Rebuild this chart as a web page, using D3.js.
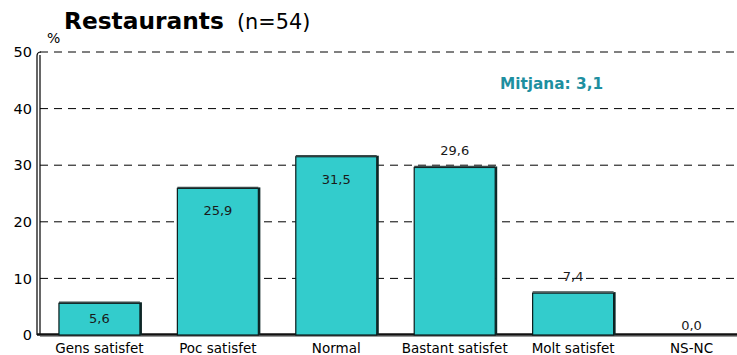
<!DOCTYPE html>
<html>
<head>
<meta charset="utf-8">
<script src="https://cdn.jsdelivr.net/npm/d3@7/dist/d3.min.js"></script>
<style>
  html, body { margin: 0; padding: 0; background: #fff; }
  svg { display: block; font-family: Verdana, "DejaVu Sans", sans-serif; }
</style>
</head>
<body>
<svg id="chart" width="737" height="355"></svg>
<script>
// Satisfaction with restaurants (%)
const categories = ["Gens satisfet", "Poc satisfet", "Normal", "Bastant satisfet", "Molt satisfet", "NS-NC"];
const values = [5.6, 25.9, 31.5, 29.6, 7.4, 0.0];
// where each value label sits: inside the bar or above it
const labelPlacement = ["in", "in", "in", "out", "out", "out"];
const yTicks = [0, 10, 20, 30, 40, 50];
const titleMain = "Restaurants";
const titleSub = "(n=54)";
const meanLabel = "Mitjana: 3,1";

const svg = d3.select("#chart");
const W = 737, H = 355;
const margin = { left: 40, top: 52, bottom: 20 };
const plotBottom = 335;

const x = d3.scaleBand()
  .domain(categories)
  .range([margin.left, margin.left + 6 * 118.5])
  .paddingInner(0.316)
  .paddingOuter(0.16);

const y = d3.scaleLinear().domain([0, 50]).range([plotBottom, margin.top]);

const fmt = v => d3.format(".1f")(v).replace(".", ",");

// dashed gridlines
svg.append("g")
  .selectAll("line")
  .data(yTicks.filter(t => t > 0))
  .join("line")
  .attr("x1", margin.left)
  .attr("x2", W)
  .attr("y1", d => y(d))
  .attr("y2", d => y(d))
  .attr("stroke", "#000")
  .attr("stroke-width", 1)
  .attr("stroke-dasharray", "8,6");

// y axis
const yAxis = d3.axisLeft(y).tickValues(yTicks).tickSize(0).tickPadding(4).tickFormat(d3.format("d"));
const gy = svg.append("g")
  .attr("transform", `translate(${margin.left - 4},0)`)
  .call(yAxis);
gy.select(".domain").remove();
gy.selectAll("text")
  .attr("font-size", 14.5)
  .attr("fill", "#000")
  .attr("font-family", "Verdana, 'DejaVu Sans', sans-serif");

// wall: double vertical line with rounded top
svg.append("path")
  .attr("d", `M${margin.left - 3},${plotBottom} V${y(50) + 4} Q${margin.left - 3},${y(50)} ${margin.left + 1},${y(50)}`)
  .attr("fill", "none").attr("stroke", "#000").attr("stroke-width", 1.2);
svg.append("line")
  .attr("x1", margin.left).attr("x2", margin.left)
  .attr("y1", y(50) + 3).attr("y2", plotBottom)
  .attr("stroke", "#000").attr("stroke-width", 1.2);

// floor
svg.append("line")
  .attr("x1", margin.left - 3).attr("x2", W)
  .attr("y1", plotBottom - 0.5).attr("y2", plotBottom - 0.5)
  .attr("stroke", "#111").attr("stroke-width", 2.5);
svg.append("line")
  .attr("x1", margin.left).attr("x2", W)
  .attr("y1", plotBottom + 1.5).attr("y2", plotBottom + 1.5)
  .attr("stroke", "#999").attr("stroke-width", 1);

// bars
const bars = svg.append("g").selectAll("g")
  .data(categories.map((c, i) => ({ c, v: values[i], place: labelPlacement[i] })))
  .join("g");

bars.append("rect")
  .attr("x", d => x(d.c))
  .attr("y", d => y(d.v))
  .attr("width", x.bandwidth())
  .attr("height", d => plotBottom - y(d.v))
  .attr("fill", "#33CCCC")
  .attr("stroke", "#0a1a1a")
  .attr("stroke-width", 1.2);

// shaded top and right edges
bars.filter(d => d.v > 0).append("line")
  .attr("x1", d => x(d.c))
  .attr("x2", d => x(d.c) + x.bandwidth())
  .attr("y1", d => y(d.v) - 1)
  .attr("y2", d => y(d.v) - 1)
  .attr("stroke", "#3a4a4a").attr("stroke-width", 1.5);
bars.filter(d => d.v > 0).append("line")
  .attr("x1", d => x(d.c) + x.bandwidth() + 1)
  .attr("x2", d => x(d.c) + x.bandwidth() + 1)
  .attr("y1", d => y(d.v) - 1)
  .attr("y2", plotBottom)
  .attr("stroke", "#0d2626").attr("stroke-width", 2);

// value labels
bars.append("text")
  .attr("x", d => x(d.c) + x.bandwidth() / 2)
  .attr("y", d => {
    if (d.place === "in") return y(d.v) + Math.min(27, (plotBottom - y(d.v)) / 2 + 4);
    return y(d.v) - (d.v > 0 ? 12 : 5);
  })
  .attr("text-anchor", "middle")
  .attr("font-size", 13)
  .attr("fill", "#1a1a1a")
  .text(d => fmt(d.v));

// category labels
svg.append("g").selectAll("text")
  .data(categories)
  .join("text")
  .attr("x", d => x(d) + x.bandwidth() / 2)
  .attr("y", 353)
  .attr("text-anchor", "middle")
  .attr("font-size", 13.5)
  .attr("fill", "#000")
  .text(d => d);

// title
svg.append("text")
  .attr("x", 64).attr("y", 28.5)
  .attr("font-size", 23.3).attr("font-weight", "bold")
  .text(titleMain);
svg.append("text")
  .attr("x", 237).attr("y", 28.5)
  .attr("font-size", 20.8)
  .text(titleSub);

// axis unit
svg.append("text")
  .attr("x", 47).attr("y", 43)
  .attr("font-size", 14)
  .attr("text-anchor", "start")
  .text("%");

// mean annotation
svg.append("text")
  .attr("x", 500).attr("y", 89)
  .attr("font-size", 15.3).attr("font-weight", "bold")
  .attr("fill", "#1E8FA0")
  .text(meanLabel);
</script>
</body>
</html>
